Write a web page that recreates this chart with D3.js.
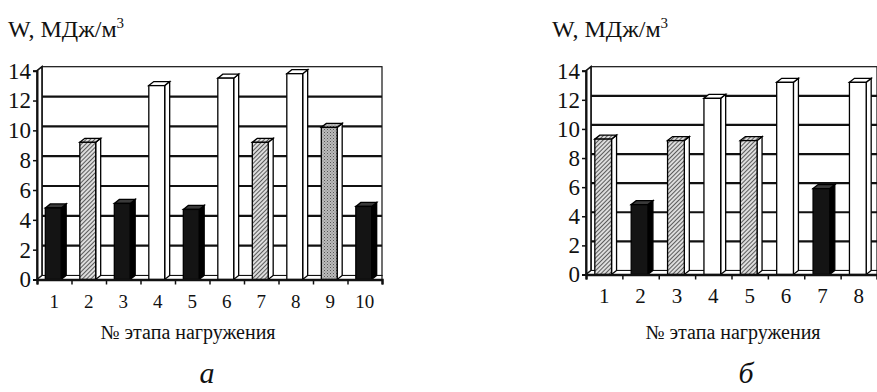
<!DOCTYPE html>
<html>
<head>
<meta charset="utf-8">
<script src="https://cdn.jsdelivr.net/npm/d3@7/dist/d3.min.js"></script>
<style>
  body { margin: 0; background: #fff; }
  svg text { font-family: "Liberation Serif", "DejaVu Serif", serif !important; fill: #111; }
</style>
</head>
<body>
<svg id="chart" width="877" height="392"></svg>
<script>
// chart a
var stagesA = ["1", "2", "3", "4", "5", "6", "7", "8", "9", "10"];
var valuesA = [4.8, 9.2, 5.1, 13.0, 4.7, 13.5, 9.2, 13.8, 10.2, 4.9];
var kindsA  = ["black", "hatch", "black", "white", "black", "white", "hatch", "white", "dots", "black"];
// chart b
var stagesB = ["1", "2", "3", "4", "5", "6", "7", "8"];
var valuesB = [9.3, 4.8, 9.2, 12.1, 9.2, 13.2, 5.9, 13.2];
var kindsB  = ["hatch", "black", "hatch", "white", "hatch", "white", "black", "white"];

var yTicks = [0, 2, 4, 6, 8, 10, 12, 14];
var yTitle = "W,  МДж/м";
var xTitle = "№ этапа нагружения";

var serif = "'Liberation Serif', 'DejaVu Serif', serif";

var svg = d3.select("#chart");
var defs = svg.append("defs");

var hatch = defs.append("pattern")
    .attr("id", "hatch")
    .attr("patternUnits", "userSpaceOnUse")
    .attr("width", 3).attr("height", 3)
    .attr("patternTransform", "rotate(45)");
hatch.append("rect").attr("width", 3).attr("height", 3).attr("fill", "#ddd");
hatch.append("line").attr("x1", 0).attr("y1", 0).attr("x2", 0).attr("y2", 3)
    .attr("stroke", "#222").attr("stroke-width", 1.4);

var dots = defs.append("pattern")
    .attr("id", "dots")
    .attr("patternUnits", "userSpaceOnUse")
    .attr("width", 3).attr("height", 3);
dots.append("rect").attr("width", 3).attr("height", 3).attr("fill", "#bbb");
dots.append("rect").attr("x", 0).attr("y", 0).attr("width", 1).attr("height", 1).attr("fill", "#555");
dots.append("rect").attr("x", 1.5).attr("y", 1.5).attr("width", 1).attr("height", 1).attr("fill", "#777");

var faces = {
    black: {front: "#141414", side: "#000", top: "#3a3a3a"},
    hatch: {front: "url(#hatch)", side: "#fff", top: "url(#hatch)"},
    dots:  {front: "url(#dots)", side: "#fff", top: "url(#dots)"},
    white: {front: "#fff", side: "#fff", top: "#fff"}
};

var ddx = 5, ddy = -4;   // depth offset of the 3d wall

function drawChart(cfg) {
    var g = svg.append("g");

    var x = d3.scaleBand().domain(cfg.stages).range([cfg.left, cfg.right]);
    var y = d3.scaleLinear().domain([0, 14]).range([cfg.bottom, cfg.top]);

    // back wall frame
    g.append("rect")
        .attr("x", cfg.left + ddx).attr("y", y(14) + ddy)
        .attr("width", cfg.right - cfg.left - ddx).attr("height", y(0) - y(14))
        .attr("fill", "none").attr("stroke", "#111").attr("stroke-width", 1.2);

    // gridlines
    g.selectAll(".grid")
        .data(yTicks.filter(function(d) { return d > 0 && d < 14; }))
        .enter().append("line")
        .attr("x1", cfg.left + ddx).attr("x2", cfg.right)
        .attr("y1", function(d) { return y(d) + ddy; })
        .attr("y2", function(d) { return y(d) + ddy; })
        .attr("stroke", "#111").attr("stroke-width", 2.2);

    // left wall
    g.append("path")
        .attr("d", "M" + cfg.left + "," + y(0) + "L" + cfg.left + "," + y(14) +
            "L" + (cfg.left + ddx) + "," + (y(14) + ddy) + "L" + (cfg.left + ddx) + "," + (y(0) + ddy) + "Z")
        .attr("fill", "#fff").attr("stroke", "#111").attr("stroke-width", 1.6);

    // floor
    g.append("path")
        .attr("d", "M" + cfg.left + "," + y(0) + "L" + (cfg.left + ddx) + "," + (y(0) + ddy) +
            "L" + cfg.right + "," + (y(0) + ddy) + "L" + cfg.right + "," + y(0) + "Z")
        .attr("fill", "#fff").attr("stroke", "#111").attr("stroke-width", 1.2);

    // bars
    var bw = x.bandwidth() * 0.46;
    var bars = g.selectAll(".bar")
        .data(cfg.values.map(function(v, i) { return {stage: cfg.stages[i], value: v, kind: cfg.kinds[i]}; }))
        .enter().append("g").attr("class", "bar");

    bars.each(function(d) {
        var b = d3.select(this);
        var x0 = x(d.stage) + x.bandwidth() / 2 - bw / 2 - 1;
        var x1 = x0 + bw;
        var yt = y(d.value), yb = y(0);
        var f = faces[d.kind];
        b.append("path")
            .attr("d", "M" + x1 + "," + yt + "L" + (x1 + ddx) + "," + (yt + ddy) +
                "L" + (x1 + ddx) + "," + (yb + ddy) + "L" + x1 + "," + yb + "Z")
            .attr("fill", f.side).attr("stroke", "#000").attr("stroke-width", 1.3);
        b.append("path")
            .attr("d", "M" + x0 + "," + yt + "L" + (x0 + ddx) + "," + (yt + ddy) +
                "L" + (x1 + ddx) + "," + (yt + ddy) + "L" + x1 + "," + yt + "Z")
            .attr("fill", f.top).attr("stroke", "#000").attr("stroke-width", 1.3);
        b.append("rect")
            .attr("x", x0).attr("y", yt).attr("width", bw).attr("height", yb - yt)
            .attr("fill", f.front).attr("stroke", "#000").attr("stroke-width", 1.3);
    });

    // y axis
    var yAxis = g.append("g")
        .attr("transform", "translate(" + cfg.left + ",0)")
        .call(d3.axisLeft(y).tickValues(yTicks).tickSize(4).tickPadding(2));
    yAxis.attr("font-family", null);
    yAxis.select(".domain").attr("stroke", "#111").attr("stroke-width", 2);
    yAxis.selectAll(".tick line").attr("stroke", "#111").attr("stroke-width", 1.5);
    yAxis.selectAll(".tick text")
        .style("font-family", serif).style("font-size", "23px").attr("fill", "#111");

    // x axis
    var ticksX = d3.scaleLinear().domain([0, cfg.stages.length]).range([cfg.left, cfg.right]);
    var xAxis = g.append("g")
        .attr("transform", "translate(0," + cfg.bottom + ")")
        .call(d3.axisBottom(ticksX).ticks(cfg.stages.length).tickSize(5).tickFormat(""));
    xAxis.select(".domain").attr("stroke", "#111").attr("stroke-width", 2.4);
    xAxis.selectAll(".tick line").attr("stroke", "#111").attr("stroke-width", 1.5);

    g.selectAll(".xlab")
        .data(cfg.stages)
        .enter().append("text")
        .attr("x", function(d) { return x(d) + x.bandwidth() / 2; })
        .attr("y", cfg.bottom + 28)
        .attr("text-anchor", "middle")
        .style("font-family", serif).style("font-size", cfg.xFont + "px")
        .text(function(d) { return d; });

    // titles
    var t = g.append("text").attr("x", cfg.titleX).attr("y", 37)
        .style("font-family", serif).style("font-size", "24px");
    t.append("tspan").text(yTitle);
    t.append("tspan").attr("dy", -9).style("font-size", "15px").text("3");

    g.append("text")
        .attr("x", cfg.captionX).attr("y", 339)
        .attr("text-anchor", "middle")
        .style("font-family", serif).style("font-size", "20px")
        .text(xTitle);

    g.append("text")
        .attr("x", cfg.letterX).attr("y", 383)
        .attr("text-anchor", "middle")
        .style("font-family", serif).style("font-size", "30px").style("font-style", "italic")
        .text(cfg.letter);
}

drawChart({stages: stagesA, values: valuesA, kinds: kindsA,
    left: 37, right: 382, top: 70.7, bottom: 279.5,
    xFont: 19, titleX: 8, captionX: 188, letterX: 207, letter: "а"});

drawChart({stages: stagesB, values: valuesB, kinds: kindsB,
    left: 586, right: 877, top: 70.7, bottom: 274.5,
    xFont: 21, titleX: 552, captionX: 733, letterX: 746, letter: "б"});
</script>
</body>
</html>
